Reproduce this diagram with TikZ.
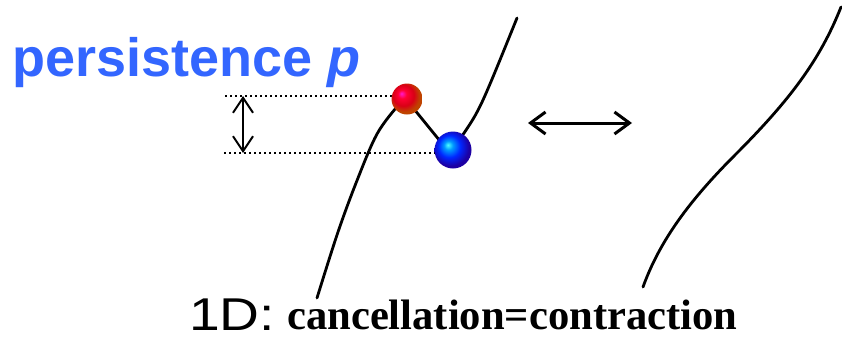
\documentclass[tikz,border=0pt]{standalone}
\usepackage{fontspec}
\setmainfont{Liberation Serif}
\newfontfamily\arialf{Liberation Sans}
\usetikzlibrary{arrows.meta}
\definecolor{persblue}{RGB}{51,102,255}
\pgfdeclareradialshading{redballsh}{\pgfpoint{-9bp}{9bp}}{color(0bp)=(magenta!80!red!90!white); color(7bp)=(red!80!magenta); color(17bp)=(red!90!magenta!85!black); color(25bp)=(orange!70!red!75!black); color(50bp)=(orange!70!red!75!black)}
\pgfdeclareradialshading{blueballsh}{\pgfpoint{-7bp}{7bp}}{color(0bp)=(cyan!70!white); color(6bp)=(cyan!60!blue); color(15bp)=(blue!85!cyan); color(25bp)=(blue!70!violet!75!black); color(50bp)=(blue!70!violet!75!black)}
\tikzset{
  curve/.style={line width=2.8pt, line cap=round},
  dotline/.style={line width=1.6pt, dash pattern=on 1.6pt off 3.4pt},
  redball/.style={circle, minimum size=31pt, inner sep=0pt, shading=redballsh},
  blueball/.style={circle, minimum size=37pt, inner sep=0pt, shading=blueballsh},
  vdarrow/.style={line width=2pt, {Straight Barb[length=15pt,width=20pt,line width=2pt]}-{Straight Barb[length=15pt,width=20pt,line width=2pt]}},
  hdarrow/.style={line width=3pt, {Straight Barb[length=15pt,width=22pt,line width=3pt]}-{Straight Barb[length=15pt,width=22pt,line width=3pt]}},
}
\begin{document}
\begin{tikzpicture}[x=1pt,y=-1pt]
\useasboundingbox (0,0) rectangle (842,338);
% title
\node[anchor=base west, inner sep=0pt, text=persblue, font=\arialf\bfseries\fontsize{54}{60}\selectfont] (title) at (12,76) {persistence \textit{p}};
% dotted guide lines
\coordinate (t1) at (225,96);
\coordinate (t2) at (393,96);
\coordinate (b1) at (224,153);
\coordinate (b2) at (436,153);
\draw[dotline] (t1) -- (t2);
\draw[dotline] (b1) -- (b2);
% persistence arrow
\coordinate (va) at (243,96);
\coordinate (vb) at (243,153);
\draw[vdarrow] (va) -- (vb);
% left curve
\draw[curve] plot[smooth, tension=0.6] coordinates {(317,298) (338,232) (358,178) (377,134) (396,108)};
\draw[curve] (414,109) -- (440,141);
\draw[curve] plot[smooth, tension=0.6] coordinates {(462,136) (476,114) (490,84) (517,18)};
% balls
\node[redball] (r) at (407,99) {};
\node[blueball] (b) at (453,150) {};
% horizontal double arrow
\coordinate (ha) at (528,123);
\coordinate (hb) at (632,123);
\draw[hdarrow] (ha) -- (hb);
% right curve
\coordinate (rc0) at (643,287);
\coordinate (rc1) at (735,155);
\coordinate (rc2) at (841,7);
\draw[curve] (rc0) .. controls (660,240) and (690,200) .. (rc1) .. controls (790,100) and (820,60) .. (rc2);
% caption
\node[anchor=base west, inner sep=0pt, font=\arialf\fontsize{46}{50}\selectfont, xscale=1.2] (one) at (189,330) {1D:};
\node[anchor=base west, inner sep=0pt, font=\bfseries\fontsize{42.6}{48}\selectfont] (cap) at (287,329) {cancellation=contraction};
\end{tikzpicture}
\end{document}
